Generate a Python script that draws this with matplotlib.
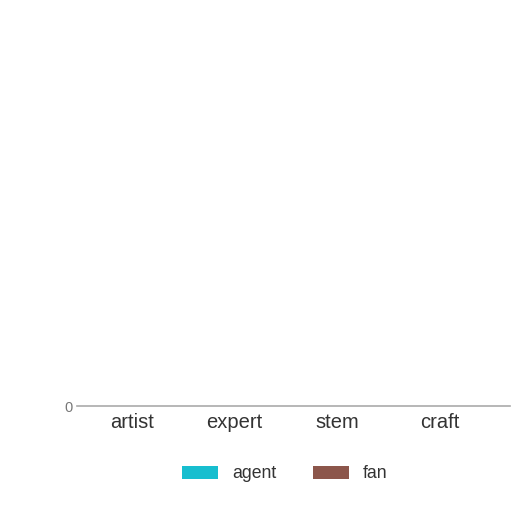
import matplotlib
matplotlib.use("Agg")
import matplotlib.pyplot as plt
import numpy as np

plt.rcParams['font.family'] = ['Liberation Sans', 'DejaVu Sans']

categories = ["artist", "expert", "stem", "craft"]
agent = [0, 0, 0, 0]
fan = [0, 0, 0, 0]

fig = plt.figure(figsize=(5.12, 5.12), dpi=100)
# axes area: x 77..510 px, y 20..406 px
ax = fig.add_axes([77 / 512, 1 - 406 / 512, (510 - 77) / 512, (406 - 20) / 512])

x = np.arange(len(categories))
w = 0.35
ax.bar(x - w / 2, agent, w, color="#17becf", label="agent")
ax.bar(x + w / 2, fan, w, color="#8c564b", label="fan")

ax.set_xlim(-0.535, 3.68)
ax.set_ylim(0, 1)
ax.set_yticks([0])
ax.set_yticklabels(["0"], fontsize=10.5, color="#777777")
ax.set_xticks(x)
ax.set_xticklabels(categories, fontsize=14.5, color="#333333")
ax.tick_params(axis="both", length=0)
ax.tick_params(axis="x", pad=5)
ax.tick_params(axis="y", pad=3)

for s in ["top", "right", "left"]:
    ax.spines[s].set_visible(False)
ax.spines["bottom"].set_color("#aaaaaa")
ax.spines["bottom"].set_linewidth(1.2)

fig.legend(loc="center", bbox_to_anchor=(285 / 512, 1 - 474 / 512), ncol=2,
           frameon=False, fontsize=12.7, handlelength=2.05, handleheight=0.7,
           columnspacing=2.05, handletextpad=0.8, labelcolor="#333333")

fig.savefig("out.png", dpi=100, facecolor="white")
